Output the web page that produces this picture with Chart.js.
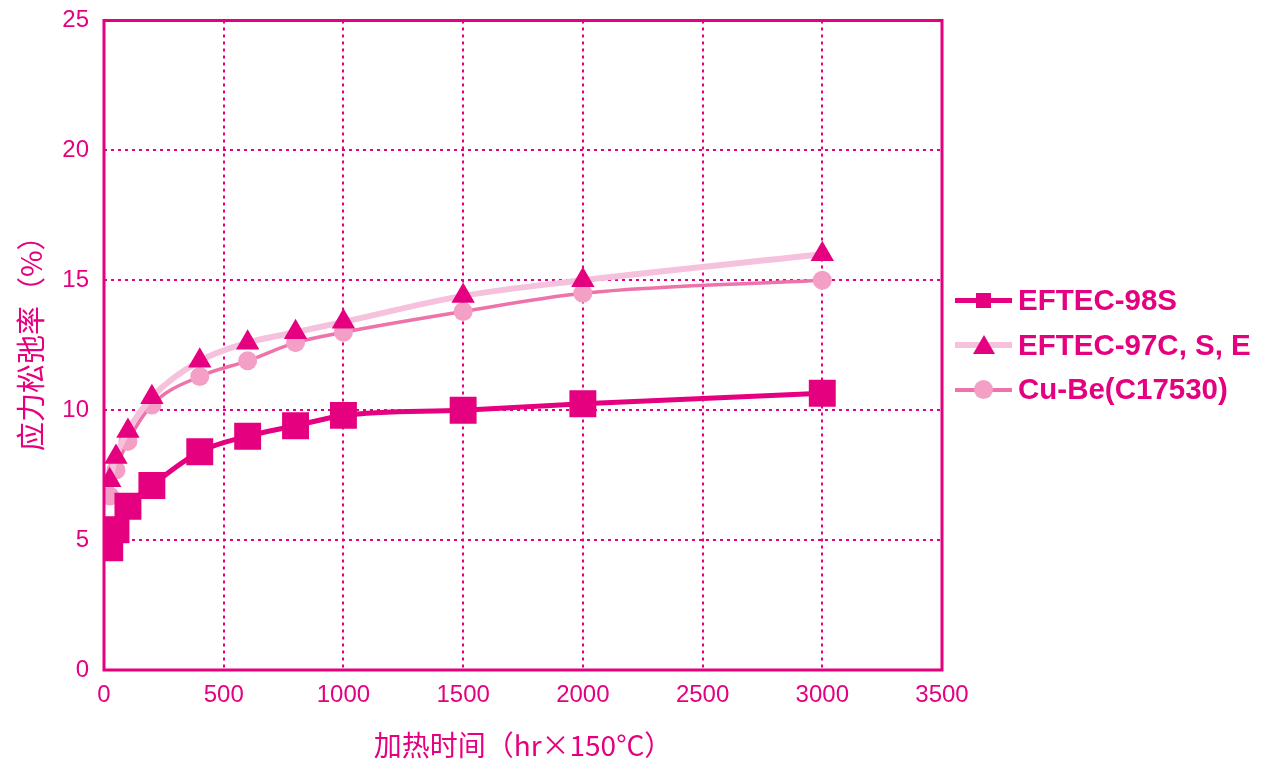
<!DOCTYPE html>
<html>
<head>
<meta charset="utf-8">
<script src="https://cdn.jsdelivr.net/npm/chart.js@4"></script>
<style>
body{margin:0;background:#fff;}
#wrap{position:relative;width:1261px;height:762px;}
#legend{position:absolute;left:955px;top:282px;font-family:"Liberation Sans",Arial,sans-serif;font-weight:bold;font-size:29.5px;color:#e4007f;}
.row{position:relative;height:44.5px;line-height:36px;padding-left:63px;white-space:nowrap;}
.row .ln{position:absolute;left:0;width:57px;top:16px;}
.row .mk{position:absolute;}
</style>
</head>
<body>
<div id="wrap">
<canvas id="chart" width="1261" height="762"></canvas>
<div id="legend">
  <div class="row"><div class="ln" style="height:5px;background:#e4007f"></div><div class="mk" style="left:21px;top:11px;width:15px;height:15px;background:#e4007f"></div>EFTEC-98S</div>
  <div class="row"><div class="ln" style="height:6px;top:15px;background:#f6c1dc"></div><div class="mk" style="left:18px;top:8px;width:0;height:0;border-left:11px solid transparent;border-right:11px solid transparent;border-bottom:19px solid #e4007f"></div>EFTEC-97C, S, E</div>
  <div class="row"><div class="ln" style="height:4px;top:17px;background:#ee73aa"></div><div class="mk" style="left:19px;top:9px;width:19px;height:19px;border-radius:50%;background:#f4a0c6"></div>Cu-Be(C17530)</div>
</div>
</div>
<script>
const pink='#e4007f';
const hours=[24,50,100,200,400,600,800,1000,1500,2000,3000];
const eftec98s=[4.7,5.4,6.3,7.1,8.4,9.0,9.4,9.8,10.0,10.25,10.65];
const eftec97=[7.3,8.2,9.2,10.5,11.9,12.6,13.0,13.4,14.4,15.0,16.0];
const cube=[6.7,7.7,8.8,10.2,11.3,11.9,12.6,13.0,13.8,14.5,15.0];
const xTicks=[0,500,1000,1500,2000,2500,3000,3500];
const yTicks=[0,5,10,15,20,25];
const yTitle='应力松弛率（%）';

function pts(arr){return hours.map((h,i)=>({x:h,y:arr[i]}));}

// frame round the plot + rotated y title
const frame={
  id:'frame',
  afterDatasetsDraw(chart){
    const a=chart.chartArea, c=chart.ctx;
    c.save();c.strokeStyle=pink;c.lineWidth=3;
    c.strokeRect(a.left,a.top,a.right-a.left,a.bottom-a.top);
    c.restore();
    c.save();
    c.translate(31,(a.top+a.bottom)/2-9);
    c.rotate(-Math.PI/2);
    c.fillStyle=pink;c.font='29px "Noto Sans CJK SC", sans-serif';
    c.textAlign='center';c.textBaseline='middle';
    c.fillText(yTitle,0,0);
    c.restore();
  }
};

const tickFont={family:'"Liberation Sans", Arial, sans-serif',size:24};
const titleFont={family:'"Noto Sans CJK SC", sans-serif',size:28};

new Chart(document.getElementById('chart'),{
  type:'line',
  data:{datasets:[
    {label:'EFTEC-98S',data:pts(eftec98s),borderColor:pink,backgroundColor:pink,borderWidth:5,
     pointStyle:'rect',pointRadius:15.5,pointHoverRadius:15.5,cubicInterpolationMode:'monotone'},
    {label:'EFTEC-97C, S, E',data:pts(eftec97),borderColor:'#f6c1dc',backgroundColor:pink,borderWidth:6,
     pointStyle:'triangle',pointRadius:13.5,pointBorderWidth:0,pointHoverRadius:13.5,cubicInterpolationMode:'monotone'},
    {label:'Cu-Be(C17530)',data:pts(cube),borderColor:'#ee73aa',backgroundColor:'#f4a0c6',borderWidth:3.5,
     pointStyle:'circle',pointRadius:9.5,pointBorderWidth:0,pointHoverRadius:9.5,cubicInterpolationMode:'monotone'}
  ]},
  options:{
    responsive:false,animation:false,
    layout:{padding:{left:0,top:20,right:319,bottom:0}},
    plugins:{legend:{display:false},tooltip:{enabled:false}},
    scales:{
      x:{type:'linear',min:0,max:3500,
        afterFit(s){s.height=92;s.paddingLeft=0;s.paddingRight=0;},
        afterBuildTicks(s){s.ticks=xTicks.map(v=>({value:v}));},
        grid:{color:pink,lineWidth:2,drawTicks:false},
        border:{display:false,dash:[3,4]},
        ticks:{color:pink,font:tickFont,padding:11,maxRotation:0,callback:v=>String(v)},
        title:{display:true,text:'加热时间（hr×150°C）',color:pink,font:titleFont,padding:{top:0,bottom:0}}
      },
      y:{min:0,max:25,
        afterFit(s){s.width=104;s.paddingTop=0;s.paddingBottom=0;},
        afterBuildTicks(s){s.ticks=yTicks.map(v=>({value:v}));},
        grid:{color:pink,lineWidth:2,drawTicks:false},
        border:{display:false,dash:[3,4]},
        ticks:{color:pink,font:tickFont,padding:15}
      }
    }
  },
  plugins:[frame]
});
</script>
</body>
</html>
